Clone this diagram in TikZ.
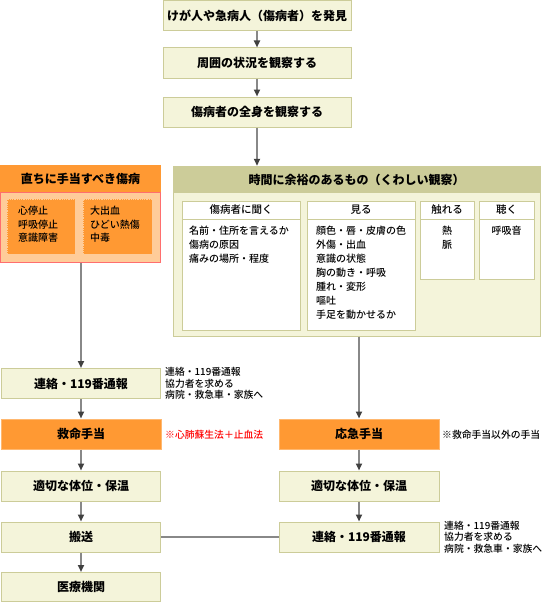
\documentclass[tikz,border=0pt]{standalone}
\usepackage{fontspec}
\setmainfont{Noto Sans CJK JP}
\newfontfamily\medfont{Noto Sans CJK JP Medium}
\usetikzlibrary{arrows.meta, positioning, calc}
\definecolor{AidBeige}{RGB}{244,244,218}
\definecolor{AidKhaki}{RGB}{204,204,153}
\definecolor{AidOrange}{RGB}{255,153,51}
\definecolor{AidPeach}{RGB}{255,204,153}
\definecolor{AidPink}{RGB}{255,110,110}
\definecolor{AidGray}{RGB}{136,136,136}
\definecolor{AidDark}{RGB}{64,64,64}
\definecolor{AidRed}{RGB}{255,0,0}
\tikzset{
  stepbox/.style={
    rectangle, draw=AidKhaki, fill=AidBeige, line width=1pt,
    minimum width=159pt, minimum height=30pt, inner sep=0pt,
    font=\fontsize{12}{14}\selectfont\bfseries
  },
  aidbox/.style={stepbox, draw=AidOrange!70, fill=AidOrange},
  colbox/.style={rectangle, draw=AidKhaki, fill=white, line width=1pt, inner sep=0pt},
  sickbox/.style={
    rectangle, draw=AidPeach, densely dotted, fill=AidOrange, line width=0.8pt,
    minimum width=68pt, minimum height=55pt, inner sep=0pt
  },
  listtxt/.style={anchor=north west, align=left, inner sep=0pt, font=\medfont\fontsize{10}{14}\selectfont},
  hdtxt/.style={font=\medfont\fontsize{10.5}{12}\selectfont, inner sep=0pt},
  note/.style={anchor=west, align=left, inner sep=0pt, font=\medfont\fontsize{9.8}{11.6}\selectfont},
  arr/.style={-{Triangle[length=7pt,width=6pt,color=AidDark]}, draw=AidGray, line width=1.8pt},
  link/.style={draw=AidGray, line width=1.8pt}
}

\begin{document}
\begin{tikzpicture}[x=1pt, y=-1pt]

  \useasboundingbox[fill=white] (0,0) rectangle (544,602);

  % ── Observation steps ──
  \node[stepbox, minimum width=188pt] (find)     at (257,16)  {けが人や急病人（傷病者）を発見};
  \node[stepbox, minimum width=188pt] (surround) at (257,63)  {周囲の状況を観察する};
  \node[stepbox, minimum width=188pt] (whole)    at (257,112) {傷病者の全身を観察する};

  % ── Urgent cases ──
  \node[rectangle, fill=AidOrange, minimum width=161pt, minimum height=27pt, inner sep=0pt,
        font=\fontsize{12}{14}\selectfont\bfseries] (urgenthd) at (80.5,178.5) {直ちに手当すべき傷病};
  \node[rectangle, draw=AidPink, fill=AidPeach, line width=1pt, minimum width=160pt,
        minimum height=70pt, inner sep=0pt] (urgent) at (80.5,227) {};
  \node[sickbox] (cardiac) at (41,226.5) {};
  \node[sickbox, minimum width=69pt] (bleed) at (117.5,226.5) {};
  \node[listtxt, font=\medfont\fontsize{10}{13.5}\selectfont] at (18,206) {心停止\\呼吸停止\\意識障害};
  \node[listtxt, font=\medfont\fontsize{10}{13.5}\selectfont] at (90,206) {大出血\\ひどい熱傷\\中毒};

  % ── Detailed observation ──
  \node[rectangle, draw=AidKhaki, fill=AidBeige, line width=1pt, minimum width=367pt,
        minimum height=170pt, inner sep=0pt] (khaki) at (356.5,251) {};
  \node[rectangle, fill=AidKhaki, minimum width=366pt, minimum height=27pt, inner sep=0pt,
        font=\fontsize{12}{14}\selectfont\bfseries] (khakihd) at (356.5,179.5) {時間に余裕のあるもの（くわしい観察）};

  \node[colbox, minimum width=118pt, minimum height=129pt, anchor=north west] (ask)   at (182,201) {};
  \node[colbox, minimum width=108pt, minimum height=129pt, anchor=north west] (look)  at (307,201) {};
  \node[colbox, minimum width=54pt,  minimum height=78pt,  anchor=north west] (touch) at (420,201) {};
  \node[colbox, minimum width=55pt,  minimum height=78pt,  anchor=north west] (hear)  at (479,201) {};
  \foreach \col in {ask, look, touch, hear}
    \draw[AidKhaki, line width=1pt] ([yshift=-18pt]\col.north west) -- ([yshift=-18pt]\col.north east);

  \node[hdtxt] at (241,210)   {傷病者に聞く};
  \node[hdtxt] at (361,210)   {見る};
  \node[hdtxt] at (447,210)   {触れる};
  \node[hdtxt] at (506.5,210) {聴く};

  \node[listtxt] at (189,226) {名前・住所を言えるか\\傷病の原因\\痛みの場所・程度};
  \node[listtxt] at (316,226) {顔色・唇・皮膚の色\\外傷・出血\\意識の状態\\胸の動き・呼吸\\腫れ・変形\\嘔吐\\手足を動かせるか};
  \node[listtxt, anchor=north, align=center] at (447,226) {熱\\脈};
  \node[listtxt, anchor=north] at (506.5,226) {呼吸音};

  % ── Left column ──
  \node[stepbox] (contact1)  at (81,383.5) {連絡・119番通報};
  \node[aidbox, minimum width=160pt] (lifesave) at (81,434) {救命手当};
  \node[stepbox] (posture1)  at (81,486) {適切な体位・保温};
  \node[stepbox] (transport) at (81,537) {搬送};
  \node[stepbox, minimum height=29pt] (hospital) at (81,587) {医療機関};

  % ── Right column ──
  \node[aidbox, minimum width=160pt] (firstaid) at (359,434) {応急手当};
  \node[stepbox, minimum width=160pt] (posture2) at (359,486) {適切な体位・保温};
  \node[stepbox, minimum width=160pt] (contact2) at (359,537) {連絡・119番通報};

  % ── Notes ──
  \node[note] (note1) at (165,383.5) {連絡・119番通報\\協力者を求める\\病院・救急車・家族へ};
  \node[note, text=AidRed] (note2) at (165,435) {※心肺蘇生法＋止血法};
  \node[note] (note3) at (442,435) {※救命手当以外の手当};
  \node[note] (note4) at (444,537) {連絡・119番通報\\協力者を求める\\病院・救急車・家族へ};

  % ── Arrows ──
  \draw[arr] (find) -- (surround);
  \draw[arr] (surround) -- (whole);
  \draw[arr] (whole.south) -- (whole.south |- khakihd.north);
  \draw[arr] (contact1.north |- urgent.south) -- (contact1.north);
  \draw[arr] (firstaid.north |- khaki.south) -- (firstaid.north);
  \draw[arr] (contact1) -- (lifesave);
  \draw[arr] (lifesave) -- (posture1);
  \draw[arr] (posture1) -- (transport);
  \draw[arr] (transport) -- (hospital);
  \draw[arr] (firstaid) -- (posture2);
  \draw[arr] (posture2) -- (contact2);
  \draw[link] (transport) -- (contact2);
\end{tikzpicture}
\end{document}
